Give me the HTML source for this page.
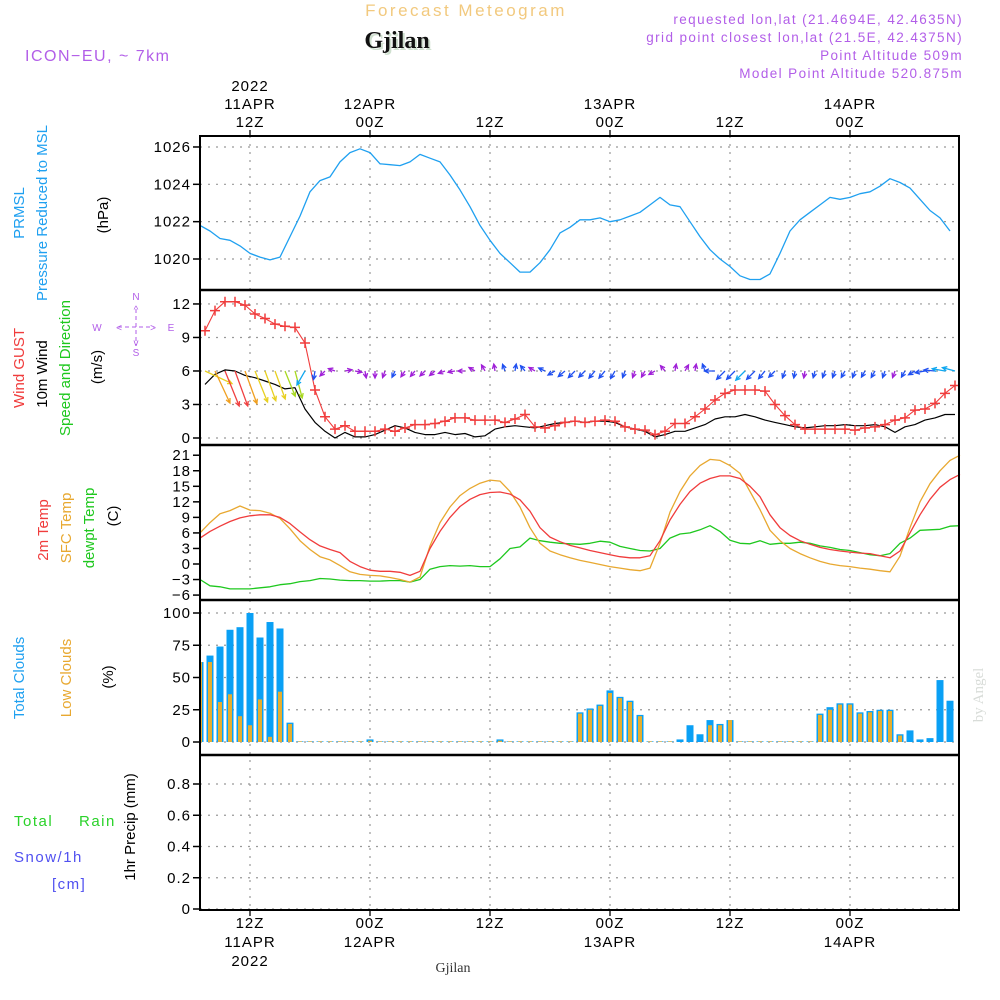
<!DOCTYPE html>
<html><head><meta charset="utf-8">
<style>
html,body{margin:0;padding:0;background:#fff;}
svg{display:block;font-family:"Liberation Sans",sans-serif;}
.t{font-size:15px;fill:#000;letter-spacing:1px;}
</style></head>
<body>
<svg id="chart" width="1000" height="1000" viewBox="0 0 1000 1000" xmlns="http://www.w3.org/2000/svg">
<rect x="0" y="0" width="1000" height="1000" fill="#fff"/>
<text x="466" y="16" text-anchor="middle" font-size="17" letter-spacing="2.5" fill="#f2c97e">Forecast Meteogram</text>
<text x="399" y="50" text-anchor="middle" font-family="Liberation Serif,serif" font-weight="bold" font-size="24" fill="#cfe0cf">Gjilan</text>
<text x="397" y="48" text-anchor="middle" font-family="Liberation Serif,serif" font-weight="bold" font-size="24" fill="#111">Gjilan</text>
<text x="25" y="61" font-size="16" letter-spacing="1.5" fill="#b25ee8">ICON−EU, ~ 7km</text>
<g font-size="13.5" letter-spacing="1.4" fill="#b25ee8" text-anchor="end">
<text x="963" y="24">requested lon,lat (21.4694E, 42.4635N)</text>
<text x="963" y="42">grid point closest lon,lat (21.5E, 42.4375N)</text>
<text x="963" y="60">Point Altitude 509m</text>
<text x="963" y="78">Model Point Altitude 520.875m</text>
</g>
<text transform="translate(983,695) rotate(-90)" text-anchor="middle" font-family="Liberation Serif,serif" font-size="15" fill="#d8dcd8">by Angel</text>
<text x="453" y="972" text-anchor="middle" font-family="Liberation Serif,serif" font-size="14" fill="#333">Gjilan</text>

<g font-size="15">
<text transform="translate(24,213) rotate(-90)" text-anchor="middle" fill="#1fa0f0">PRMSL</text>
<text transform="translate(47,213) rotate(-90)" text-anchor="middle" fill="#1fa0f0">Pressure Reduced to MSL</text>
<text transform="translate(108,215) rotate(-90)" text-anchor="middle" fill="#000">(hPa)</text>
<text transform="translate(24,368) rotate(-90)" text-anchor="middle" fill="#f03c3c">Wind GUST</text>
<text transform="translate(47,374) rotate(-90)" text-anchor="middle" fill="#000">10m Wind</text>
<text transform="translate(70,368) rotate(-90)" text-anchor="middle" fill="#1ec81e">Speed and Direction</text>
<text transform="translate(102,367) rotate(-90)" text-anchor="middle" fill="#000">(m/s)</text>
<text transform="translate(48,530) rotate(-90)" text-anchor="middle" fill="#f03c3c">2m Temp</text>
<text transform="translate(71,528) rotate(-90)" text-anchor="middle" fill="#e8a830">SFC Temp</text>
<text transform="translate(94,528) rotate(-90)" text-anchor="middle" fill="#1ec81e">dewpt Temp</text>
<text transform="translate(118,516) rotate(-90)" text-anchor="middle" fill="#000">(C)</text>
<text transform="translate(24,678) rotate(-90)" text-anchor="middle" fill="#1fa0f0">Total Clouds</text>
<text transform="translate(71,678) rotate(-90)" text-anchor="middle" fill="#e8a830">Low Clouds</text>
<text transform="translate(113,677) rotate(-90)" text-anchor="middle" fill="#000">(%)</text>
<text transform="translate(135,827) rotate(-90)" text-anchor="middle" fill="#000">1hr Precip (mm)</text>
<text x="14" y="826" fill="#2ad22a" letter-spacing="1.5">Total</text>
<text x="79" y="826" fill="#2ad22a" letter-spacing="1.5">Rain</text>
<text x="14" y="862" fill="#5050f0" letter-spacing="1.5">Snow/1h</text>
<text x="52" y="889" fill="#5050f0" letter-spacing="1.5">[cm]</text>
</g>
<g font-size="10" fill="#b25ee8" text-anchor="middle">
<text x="136" y="300">N</text><text x="136" y="356">S</text><text x="97" y="331">W</text><text x="171" y="331">E</text>
<text x="136" y="313">^</text><text x="136" y="346">v</text>
<line x1="118" y1="327" x2="154" y2="327" stroke="#b25ee8" stroke-dasharray="4,3"/>
<line x1="136" y1="309" x2="136" y2="345" stroke="#b25ee8" stroke-dasharray="4,3"/>
<text x="119" y="331">&lt;</text><text x="153" y="331">&gt;</text>
</g>
<g id="plot"></g>
</svg>
<script>
// ---- data (hourly, hour 0 = 11APR 07Z) ----
const timeTickHours = [5, 17, 29, 41, 53, 65];
const topTickLabels = [["2022","11APR","12Z"],["12APR","00Z"],["12Z"],["13APR","00Z"],["12Z"],["14APR","00Z"]];
const bottomTickLabels = [["12Z","11APR","2022"],["00Z","12APR"],["12Z"],["00Z","13APR"],["12Z"],["00Z","14APR"]];
const pressure = [1021.8,1021.5,1021.1,1021.0,1020.7,1020.3,1020.1,1019.95,1020.1,1021.2,1022.3,1023.6,1024.2,1024.4,1025.2,1025.7,1025.9,1025.7,1025.1,1025.05,1025.0,1025.2,1025.6,1025.4,1025.2,1024.5,1023.7,1022.8,1021.8,1021.0,1020.3,1019.8,1019.3,1019.3,1019.8,1020.5,1021.4,1021.7,1022.1,1022.1,1022.2,1022.0,1022.1,1022.3,1022.5,1022.9,1023.3,1022.9,1022.8,1022.0,1021.2,1020.5,1020.0,1019.6,1019.1,1018.9,1018.9,1019.2,1020.3,1021.5,1022.1,1022.5,1022.9,1023.3,1023.2,1023.3,1023.5,1023.6,1023.9,1024.3,1024.1,1023.8,1023.2,1022.6,1022.2,1021.5];
const pressureTicks = [1020,1022,1024,1026];
const windGust = [9.6,11.4,12.2,12.2,11.9,11.1,10.7,10.2,10.0,9.9,8.5,4.3,1.9,0.8,1.1,0.6,0.6,0.6,0.8,0.6,0.9,1.2,1.2,1.3,1.5,1.8,1.8,1.6,1.6,1.6,1.4,1.7,2.1,1.0,0.9,1.1,1.4,1.5,1.4,1.5,1.6,1.5,1.0,0.8,0.7,0.3,0.6,1.3,1.3,1.9,2.6,3.4,4.0,4.3,4.3,4.3,4.2,3.0,2.0,1.2,0.8,0.8,0.8,0.8,0.8,0.7,0.9,1.0,1.2,1.6,1.8,2.5,2.6,3.1,4.0,4.7];
const windSpeed = [4.8,5.7,6.1,6.0,5.6,5.4,5.1,4.8,4.4,4.5,2.6,1.4,0.6,0.0,0.5,0.1,0.1,0.3,0.7,1.1,0.9,0.5,0.3,0.3,0.5,0.3,0.4,0.1,0.2,0.8,1.0,1.1,1.0,0.9,1.1,1.3,1.4,1.5,1.4,1.5,1.5,1.4,1.0,0.8,0.6,0.1,0.3,0.6,0.6,0.9,1.2,1.7,1.9,1.9,2.1,1.9,1.6,1.4,1.2,1.0,0.9,1.0,1.1,1.1,1.2,1.1,1.1,1.2,1.0,0.5,1.0,1.2,1.6,1.8,2.1,2.1];
const windDir = [115,155,158,160,160,158,160,160,158,165,210,190,225,290,80,100,170,180,200,205,215,220,225,230,250,260,270,300,330,350,340,10,320,300,295,240,230,225,225,220,220,210,200,200,210,240,320,10,30,10,340,270,225,225,225,225,220,225,200,190,190,195,200,200,210,200,210,210,200,200,210,240,260,275,280,285];
const windTicks = [0,3,6,9,12];
const temp2m = [5.0,6.3,7.3,8.2,8.9,9.3,9.5,9.5,9.0,7.8,6.2,4.7,3.5,2.8,2.2,0.5,-0.5,-1.2,-1.4,-1.4,-1.6,-2.2,-1.4,3.0,6.3,9.0,11.1,12.5,13.4,13.8,13.9,13.5,12.4,10.2,7.0,5.2,4.3,3.6,3.1,2.6,2.2,1.8,1.4,1.2,1.2,1.6,4.5,8.5,11.5,14.0,15.6,16.5,17.0,17.0,16.5,15.0,13.0,9.5,7.0,5.5,4.5,3.8,3.2,2.8,2.5,2.3,2.1,2.0,1.6,1.2,2.5,6.0,9.5,12.5,14.8,16.3,17.3];
const tempSfc = [6.0,8.0,9.7,10.3,11.2,10.4,10.3,9.8,8.8,6.8,4.5,2.8,1.4,0.8,-0.3,-1.5,-2.0,-2.2,-2.3,-2.6,-3.0,-3.5,-2.5,3.5,8.0,11.0,13.2,14.6,15.6,16.2,16.0,14.0,11.0,7.0,4.0,2.5,1.8,1.2,0.7,0.3,-0.1,-0.5,-0.8,-1.1,-1.3,-0.8,4.0,10.0,14.0,17.0,19.0,20.2,20.0,19.0,17.5,14.0,10.5,6.5,4.5,3.0,2.0,1.2,0.5,0.0,-0.3,-0.5,-0.8,-1.0,-1.3,-1.5,1.5,7.0,12.0,15.5,18.0,20.0,21.0];
const tempDew = [-3.0,-4.2,-4.4,-4.8,-4.8,-4.8,-4.6,-4.4,-4.0,-3.8,-3.4,-3.2,-2.8,-2.9,-3.1,-3.2,-3.2,-3.3,-3.3,-3.2,-3.2,-3.5,-3.0,-1.0,-0.5,-0.3,-0.4,-0.3,-0.5,-0.5,1.0,3.0,3.3,5.0,4.5,4.2,4.0,3.9,3.8,4.0,4.4,4.2,3.4,3.0,2.6,2.5,3.0,5.0,5.8,6.0,6.6,7.4,6.3,4.6,4.0,3.9,4.5,3.8,4.0,4.0,4.2,4.0,3.5,3.2,2.8,2.6,2.2,1.8,1.6,2.0,4.0,5.0,6.5,6.6,6.7,7.3,7.4];
const tempTicks = [-6,-3,0,3,6,9,12,15,18,21];
const cloudTotal = [62,67,74,87,89,100,81,93,88,15,0.5,0.5,0.5,0.5,0.5,0.5,0.5,2,0.5,0.5,0.5,0.5,0.5,0.5,0.5,0.5,0.5,0.5,0.5,0.5,2,0.5,0.5,0.5,0.5,0.5,0.5,0.5,23,26,29,40,35,32,21,0.5,0.5,0.5,2,13,6,17,14,17,0.5,0.5,0.5,0.5,0.5,0.5,0.5,0.5,22,27,30,30,23,24,25,25,6,9,2,3,48,32,2];
const cloudLow = [62,62,31,37,20,13,33,4,39,14,0.5,0.5,0.5,0.5,0.5,0.5,0.5,1,0.5,0.5,0.5,0.5,0.5,0.5,0.5,0.5,0.5,0.5,0.5,0.5,1,0.5,0.5,0.5,0.5,0.5,0.5,0.5,22,25,28,38,34,31,20,0.5,0.5,0.5,0,0,0,13,13,17,0.5,0.5,0.5,0.5,0.5,0.5,0.5,0.5,21,25,29,29,22,23,24,24,5,0,0,0,0,0,0];
const cloudTicks = [0,25,50,75,100];
const precip = new Array(76).fill(0);
const precipTicks = [0,0.2,0.4,0.6,0.8];
const precipTickLabels = ["0","0.2","0.4","0.6","0.8"];

// ---- layout ----
const L=200, R=959, TOP=136;
const xH = h => L + 10*h;
const yP = v => 259 - (v-1020)*18.67;
const yW = v => 438 - v*11.17;
const yT = v => 564 - v*5.18;
const yC = v => 742 - v*1.29;
const yR = v => 909 - v*156.25;

const NS="http://www.w3.org/2000/svg";
const plot=document.getElementById('plot');
function mk(tag, attrs, parent){const e=document.createElementNS(NS,tag);for(const k in attrs)e.setAttribute(k,attrs[k]);(parent||plot).appendChild(e);return e;}

// grids
const grid=mk('g',{});


timeTickHours.forEach(h=>{
  const l=mk('line',{x1:xH(h),x2:xH(h),y1:TOP,y2:910,stroke:'#999','stroke-width':1.2,'stroke-dasharray':'2,6'},grid);
  
  
});
function hgrid(ticks, yf, fmt, name){
  const g=mk('g',{});
  
  
  ticks.forEach((v,i)=>{
    if(name!=='temperature'){
      const gl=mk('line',{x1:L,x2:R,y1:yf(v),y2:yf(v),stroke:'#999','stroke-width':1.2,'stroke-dasharray':'2,6'},g);
      
      
    }
    mk('line',{x1:L-7,x2:L,y1:yf(v),y2:yf(v),stroke:'#000','stroke-width':1.5},g);
    const t=mk('text',{x:L-9,y:yf(v)+5,'text-anchor':'end',class:'t'},g);
    t.textContent=fmt?fmt[i]:String(v).replace('-','−');
    
    
  });
}
hgrid(pressureTicks,yP,null,'pressure');
hgrid(windTicks,yW,null,'wind');
hgrid(tempTicks,yT,null,'temperature');
hgrid(cloudTicks,yC,null,'cloud');
hgrid(precipTicks,yR,precipTickLabels,'precip');

function line(vals, xf, yf, color, name, w){
  const d=vals.map((v,i)=>(i?'L':'M')+xf(i).toFixed(1)+','+yf(v).toFixed(1)).join(' ');
  const p=mk('path',{d:d,fill:'none',stroke:color,'stroke-width':w||1.3,'stroke-linejoin':'round'});
  
  
  return p;
}
line(pressure,xH,yP,'#1fa0f0','pressure-line');
line(tempDew,xH,yT,'#1ec81e','dewpoint-line');
line(tempSfc,xH,yT,'#e8a830','sfc-temp-line');
line(temp2m,xH,yT,'#f03c3c','temp-2m-line');
// clouds
const cg=mk('g',{});


cloudTotal.forEach((v,i)=>{
  const x=xH(i); if(x>R) return;
  const x0=Math.max(L,x-3.5), x1=Math.min(R,x+3.5);
  const b=mk('rect',{x:x0,y:yC(v),width:x1-x0,height:yC(0)-yC(v),fill:'#0aa0f5'},cg);
  
  
  const lv=cloudLow[i];
  if(lv>0){
    const a0=Math.max(L,x-2), a1=Math.min(R,x+2);
    const o=mk('rect',{x:a0,y:yC(lv),width:a1-a0,height:yC(0)-yC(lv),fill:'#e6ae30'},cg);
    
    
  }
});
// precip
const pg=mk('g',{});


precip.forEach((v,i)=>{ if(v>0){ const b=mk('rect',{x:xH(i)-3,y:yR(v),width:6,height:yR(0)-yR(v),fill:'#2ad22a'},pg);   }});

// wind
const xW = i => L + 5 + 10*i;
line(windSpeed,xW,yW,'#000','wind-speed-line',1.2);
line(windGust,xW,yW,'#f03c3c','wind-gust-line',1.1);
const gm=mk('g',{});


windGust.forEach((v,i)=>{
  const x=xW(i), y=yW(v);
  mk('path',{d:`M${x-5},${y}H${x+5}M${x},${y-5}V${y+5}`,stroke:'#f03c3c','stroke-width':1.5},gm);
});
function spdColor(s){
  if(s<1) return '#a020d8'; if(s<2) return '#2050f0'; if(s<3) return '#10a8f0';
  if(s<4) return '#10c890'; if(s<4.8) return '#a8d820'; if(s<5.5) return '#e8d020';
  if(s<5.9) return '#f0a020'; return '#f04040';
}
const ag=mk('g',{});


windDir.forEach((dir,i)=>{
  const s=windSpeed[i], len=Math.max(s*6.2,7);
  const a=dir*Math.PI/180, x0=xW(i), y0=yW(6);
  const x1=x0+len*Math.sin(a), y1=y0-len*Math.cos(a);
  const hl=5, c=spdColor(s);
  const b1=a+Math.PI-0.45, b2=a+Math.PI+0.45;
  mk('path',{d:`M${x0},${y0}L${x1},${y1}M${x1+hl*Math.sin(b1)},${y1-hl*Math.cos(b1)}L${x1},${y1}L${x1+hl*Math.sin(b2)},${y1-hl*Math.cos(b2)}`,fill:'none',stroke:c,'stroke-width':1.3},ag);
});

// frames
const fg=mk('g',{});


mk('rect',{x:L,y:TOP,width:R-L,height:910-TOP,fill:'none',stroke:'#000','stroke-width':2},fg);
[290,445,600,755].forEach(y=>mk('line',{x1:L,x2:R,y1:y,y2:y,stroke:'#000','stroke-width':2.5},fg));

// time axes
const ta=mk('g',{});


timeTickHours.forEach((h,i)=>{
  const x=xH(h);
  mk('line',{x1:x,x2:x,y1:TOP-6,y2:TOP,stroke:'#000','stroke-width':1.3},ta);
  mk('line',{x1:x,x2:x,y1:910,y2:916,stroke:'#000','stroke-width':1.3},ta);
  const tl=topTickLabels[i];
  tl.forEach((s,j)=>{
    const t=mk('text',{x:x,y:127-(tl.length-1-j)*18,'text-anchor':'middle',class:'t','font-size':16},ta);
    t.textContent=s;
    
    
  });
  bottomTickLabels[i].forEach((s,j)=>{
    const t=mk('text',{x:x,y:928+j*19,'text-anchor':'middle',class:'t','font-size':16},ta);
    t.textContent=s;
    
    
  });
});
</script>
</body></html>
